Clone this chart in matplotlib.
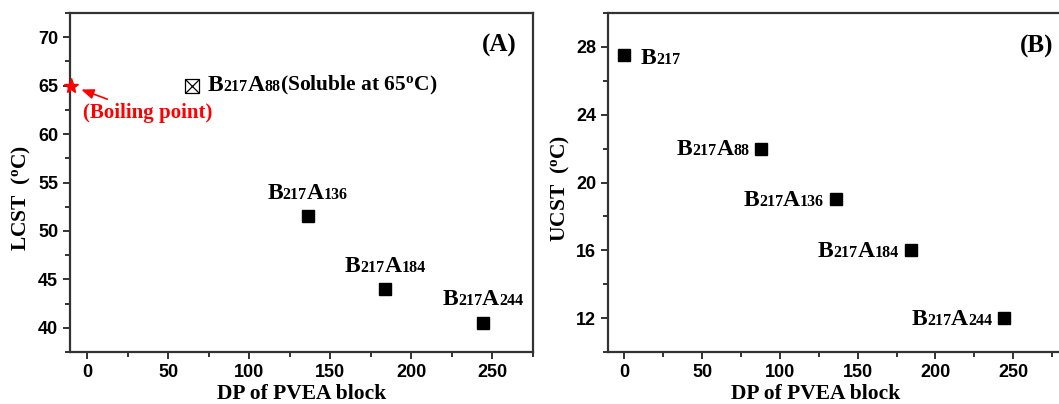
import re

import matplotlib

matplotlib.use("Agg")
import matplotlib.pyplot as plt
from matplotlib.offsetbox import AnnotationBbox, HPacker, TextArea
from matplotlib.ticker import MultipleLocator

# LCST panel
lcst_dp = [136, 184, 244]
lcst_temp = [51.5, 44, 40.5]
lcst_names = ["B217A136", "B217A184", "B217A244"]
soluble_name = "B217A88"
soluble_note = "(Soluble at 65$^{\\mathrm{o}}$C)"
soluble_pos = [65, 65]
boiling_pos = [-10, 65]

# UCST panel
ucst_dp = [0, 88, 136, 184, 244]
ucst_temp = [27.5, 22, 19, 16, 12]
ucst_names = ["B217", "B217A88", "B217A136", "B217A184", "B217A244"]

SERIF = "Liberation Serif"
SANS = "Liberation Sans"
BIG, SMALL = 17, 11.5

plt.rcParams["mathtext.fontset"] = "custom"
plt.rcParams["mathtext.rm"] = "Liberation Serif:bold"
plt.rcParams["mathtext.bf"] = "Liberation Serif:bold"
plt.rcParams["mathtext.it"] = "Liberation Serif:bold:italic"


def chem_label(ax, name, xy, offset, align, extra="", extra_size=BIG, color="black"):
    """Polymer name with smaller, baseline-aligned degree-of-polymerisation digits."""
    children = []
    for chunk in re.findall(r"[A-Za-z]+|\d+", name):
        size = SMALL if chunk.isdigit() else BIG
        children.append(TextArea(chunk, textprops=dict(fontsize=size, family=SERIF,
                                                       weight="bold", color=color)))
    if extra:
        children.append(TextArea(extra, textprops=dict(fontsize=extra_size, family=SERIF,
                                                       weight="bold", color=color)))
    box = HPacker(children=children, align="baseline", pad=0, sep=0)
    ab = AnnotationBbox(box, xy, xybox=offset, xycoords="data", boxcoords="offset points",
                        box_alignment=align, frameon=False, pad=0)
    ax.add_artist(ab)


def style_axes(ax, xlim, ylim, ymajor, yminor):
    ax.set_xlim(*xlim)
    ax.set_ylim(*ylim)
    ax.xaxis.set_major_locator(MultipleLocator(50))
    ax.xaxis.set_minor_locator(MultipleLocator(25))
    ax.yaxis.set_major_locator(MultipleLocator(ymajor))
    ax.yaxis.set_minor_locator(MultipleLocator(yminor))
    ax.tick_params(which="both", direction="out", width=1.3, color="#222222")
    ax.tick_params(which="major", length=5)
    ax.tick_params(which="minor", length=3.5)
    for lab in ax.get_xticklabels() + ax.get_yticklabels():
        lab.set_fontfamily(SANS)
        lab.set_fontweight("bold")
        lab.set_fontsize(13)
    for sp in ax.spines.values():
        sp.set_linewidth(1.6)
        sp.set_color("#333333")
    ax.set_xlabel("DP of PVEA block", fontsize=15.5, family=SERIF, weight="bold")


fig = plt.figure(figsize=(10.59, 4.04), dpi=100)
ax1 = fig.add_axes([0.0661, 0.1287, 0.4372, 0.8391])
ax2 = fig.add_axes([0.5741, 0.1287, 0.4415, 0.8391])

# (A) LCST vs DP
style_axes(ax1, (-10.5, 275), (37.5, 72.5), 5, 2.5)
ax1.plot(lcst_dp, lcst_temp, "s", color="black", markersize=9, linestyle="none")
ax1.plot(*soluble_pos, "s", mfc="none", mec="black", mew=0.9, markersize=10.5)
ax1.plot(*soluble_pos, "x", color="black", mew=0.9, markersize=10.5)
ax1.plot(*boiling_pos, "*", color="red", markersize=11, clip_on=False, zorder=5)
ax1.annotate("(Boiling point)", xy=boiling_pos, xytext=(55, -20), textcoords="offset points",
             ha="center", va="center", color="red", fontsize=15, family=SERIF, weight="bold",
             arrowprops=dict(arrowstyle="-|>,head_length=0.5,head_width=0.2", color="red",
                             lw=1.2, relpos=(0.28, 1.0), shrinkA=3, shrinkB=8))
for x, y, name in zip(lcst_dp, lcst_temp, lcst_names):
    chem_label(ax1, name, (x, y), (0, 9), (0.5, 0))
chem_label(ax1, soluble_name, soluble_pos, (11, 0), (0, 0.5), extra=soluble_note,
           extra_size=15.5)
ax1.text(0.965, 0.905, "(A)", transform=ax1.transAxes, ha="right", va="center",
         fontsize=18, family=SERIF, weight="bold")
ax1.set_ylabel("LCST  (${^{\\mathrm{o}}}$C)", fontsize=15.5, family=SERIF, weight="bold")
ax1.yaxis.set_label_coords(-0.08, 0.454)
ax1.xaxis.set_label_coords(0.5, -0.095)

# (B) UCST vs DP
style_axes(ax2, (-10.5, 290), (10, 30), 4, 2)
ax2.plot(ucst_dp, ucst_temp, "s", color="black", markersize=9, linestyle="none")
chem_label(ax2, ucst_names[0], (ucst_dp[0], ucst_temp[0]), (12, -2), (0, 0.5))
for x, y, name in zip(ucst_dp[1:], ucst_temp[1:], ucst_names[1:]):
    chem_label(ax2, name, (x, y), (-8.5, -1), (1, 0.5))
ax2.text((1053 - 608) / 467.6, 0.9, "(B)", transform=ax2.transAxes, ha="right", va="center",
         fontsize=18, family=SERIF, weight="bold")
ax2.set_ylabel("UCST  (${^{\\mathrm{o}}}$C)", fontsize=15.5, family=SERIF, weight="bold")
ax2.yaxis.set_label_coords(-0.077, 0.482)
ax2.xaxis.set_label_coords(0.444, -0.095)

fig.savefig("out.png", dpi=100)
